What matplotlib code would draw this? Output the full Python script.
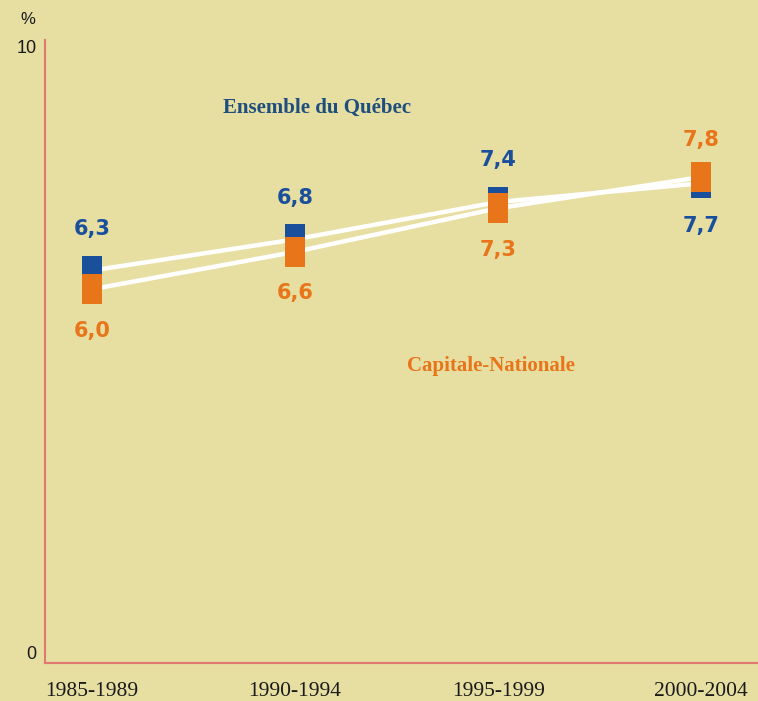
import matplotlib
matplotlib.use("Agg")
import matplotlib.pyplot as plt

periods = ["1985-1989", "1990-1994", "1995-1999", "2000-2004"]
quebec = [6.3, 6.8, 7.4, 7.7]
capitale = [6.0, 6.6, 7.3, 7.8]
quebec_labels = ["6,3", "6,8", "7,4", "7,7"]
capitale_labels = ["6,0", "6,6", "7,3", "7,8"]
series_names = ["Ensemble du Québec", "Capitale-Nationale"]
yticks = [0, 10]

bg = "#e7dea1"
blue = "#1a4f9c"
orange = "#e8751a"
name_blue = "#1d4e7e"
spine_c = "#e07a70"

fig = plt.figure(figsize=(7.58, 7.01), dpi=100, facecolor=bg)
ax = fig.add_axes([45/758, 38/701, 1 - 45/758, (663-40)/701])
ax.set_facecolor(bg)

x = list(range(len(periods)))
ax.plot(x, quebec, color="white", lw=3.2, zorder=2, solid_capstyle="butt")
ax.plot(x, capitale, color="white", lw=3.2, zorder=2, solid_capstyle="butt")

rect = [(-1, -1.5), (1, -1.5), (1, 1.5), (-1, 1.5), (-1, -1.5)]
ax.plot(x, quebec, ls="none", marker=rect, markersize=21.6, color=blue,
        markeredgewidth=0, zorder=3)
ax.plot(x, capitale, ls="none", marker=rect, markersize=21.6, color=orange,
        markeredgewidth=0, zorder=4)

for i in range(len(periods)):
    qa = quebec[i] >= capitale[i]
    ax.annotate(quebec_labels[i], (x[i], quebec[i]), xytext=(0, 30 if qa else -31),
                textcoords="offset points", ha="center", va="center",
                color=blue, fontsize=15, fontweight="bold", family="DejaVu Sans")
    ax.annotate(capitale_labels[i], (x[i], capitale[i]), xytext=(0, -30 if qa else 27),
                textcoords="offset points", ha="center", va="center",
                color=orange, fontsize=15, fontweight="bold", family="DejaVu Sans")

fig.text(317/758, 1 - 108/701, series_names[0], ha="center", va="center",
         color=name_blue, fontsize=15, fontweight="bold", family="Liberation Serif")
fig.text(491/758, 1 - 366/701, series_names[1], ha="center", va="center",
         color=orange, fontsize=15, fontweight="bold", family="Liberation Serif")

ax.set_xlim(-0.232, 3.28)
ax.set_ylim(0, 10)
ax.set_xticks(x)
ax.set_xticklabels(periods, family="Liberation Serif", fontsize=15.5, color="#1a1a1a")
ax.set_yticks(yticks)
ax.set_yticklabels([str(v) for v in yticks], family="Liberation Sans", fontsize=13,
                   color="#1a1a1a")
ax.tick_params(axis="both", length=0)
ax.tick_params(axis="x", pad=14)
ax.tick_params(axis="y", pad=6)
ylbls = ax.get_yticklabels()
ylbls[0].set_va("bottom")
ylbls[1].set_va("top")
for s in ["top", "right"]:
    ax.spines[s].set_visible(False)
for s in ["left", "bottom"]:
    ax.spines[s].set_color(spine_c)
    ax.spines[s].set_linewidth(1.5)

fig.text(28/758, 1 - 20/701, "%", ha="center", va="center", fontsize=12,
         family="Liberation Sans", color="#1a1a1a")

fig.savefig("out.png", dpi=100, facecolor=bg)
